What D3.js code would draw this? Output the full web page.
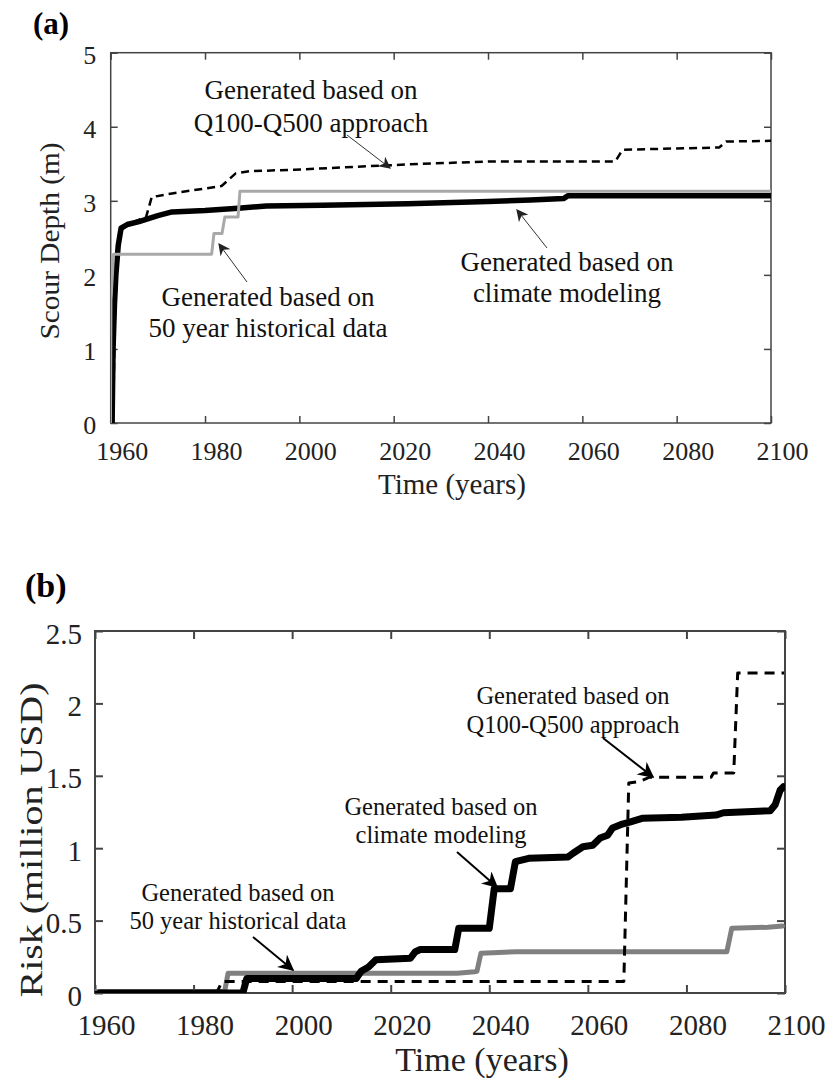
<!DOCTYPE html>
<html><head><meta charset="utf-8">
<script src="https://cdn.jsdelivr.net/npm/d3@7"></script>
<style>
html,body{margin:0;padding:0;background:#fff;}
</style></head>
<body>
<script>
// ---------- DATA ----------
const xTicks = [1960,1980,2000,2020,2040,2060,2080,2100];
const yTicksA = [0,1,2,3,4,5];
const yTicksB = [0,0.5,1,1.5,2,2.5];

// Panel (a): scour depth (m)
const climateYearsA = [1960.3,1960.5,1960.8,1961.1,1961.6,1962.2,1963.5,1966,1970,1973,1980,1987,1993,2005,2023,2040,2049,2056,2057,2100];
const climateDepthA = [0,1.0,1.6,2.0,2.4,2.63,2.68,2.72,2.8,2.85,2.87,2.9,2.93,2.94,2.96,2.99,3.01,3.03,3.07,3.07];
const histYearsA = [1959.95,1960.05,1960.6,1981.4,1981.9,1983.6,1984.2,1987.0,1987.4,2100];
const histDepthA = [0,1.66,2.28,2.28,2.56,2.56,2.78,2.78,3.13,3.13];
const qYearsA = [1960.5,1960.9,1961.4,1962,1965,1967.5,1968.7,1973,1983.5,1986.5,1989.5,1999,2012,2026,2040,2067,2068.5,2089,2090.5,2100];
const qDepthA = [0,1.5,2.2,2.6,2.72,2.78,3.05,3.1,3.2,3.37,3.4,3.42,3.46,3.5,3.53,3.53,3.69,3.72,3.8,3.81];

// Panel (b): risk (million USD)
const climateYearsB = [1961,1990,1990.8,2013,2014,2015.5,2017,2024,2025,2026,2033,2033.8,2040,2041,2044.3,2045.3,2048,2056,2057,2059,2061,2062.5,2064,2065,2067,2068.5,2071,2079,2086,2087.5,2097,2098,2099,2099.7];
const climateRiskB = [0,0,0.10,0.10,0.15,0.18,0.23,0.24,0.285,0.30,0.30,0.447,0.447,0.72,0.72,0.907,0.93,0.94,0.965,1.01,1.02,1.07,1.09,1.14,1.167,1.18,1.206,1.213,1.229,1.245,1.259,1.30,1.40,1.425];
const histYearsB = [1960,1986.3,1987,2033.5,2037,2037.5,2038.3,2045.5,2088.2,2089.2,2096.5,2099.5];
const histRiskB = [0.01,0.01,0.136,0.136,0.147,0.15,0.274,0.285,0.285,0.447,0.454,0.463];
const qYearsB = [1960,1984.8,1985.8,2067.3,2068.3,2070.5,2072.5,2085,2085.5,2089.6,2090.4,2099.8];
const qRiskB = [0.005,0.01,0.08,0.08,1.45,1.46,1.49,1.49,1.52,1.52,2.21,2.21];

// ---------- FONT PICK ----------
const ctx = document.createElement("canvas").getContext("2d");
function w(font, s){ ctx.font = font; return ctx.measureText(s).width; }
const probe = "Generated based on Qq1960";
const candidates = ["Liberation Serif","Tinos","Times New Roman","Nimbus Roman","FreeSerif","DejaVu Serif"];
let FONT = "serif";
for (const f of candidates){
  const a = w(`100px "${f}", monospace`, probe), b = w("100px monospace", probe);
  if (Math.abs(a-b) > 1){ FONT = f; break; }
}
const measured = w(`100px "${FONT}", serif`, "Generated based on");
const F = Math.min(1, 788.6 / measured);
const fs = v => (v*F).toFixed(2);

// ---------- DRAWING ----------
const svg = d3.select("body").append("svg").attr("width",832).attr("height",1078)
  .style("font-family", `"${FONT}", serif`);
const defs = svg.append("defs");
function marker(id, size, color){
  defs.append("marker").attr("id",id).attr("viewBox","0 0 10 10").attr("refX",9).attr("refY",5)
    .attr("markerWidth",size).attr("markerHeight",size).attr("markerUnits","userSpaceOnUse").attr("orient","auto")
    .append("path").attr("d","M0,0 L10,5 L0,10 L3,5 Z").attr("fill",color);
}
marker("arrA",12,"#222");
marker("arrB",16,"#000");

function panel(cfg){
  const g = svg.append("g");
  const x = d3.scaleLinear([1960,2100],[cfg.left,cfg.right]);
  const y = d3.scaleLinear(cfg.yDomain,[cfg.bottom,cfg.top]);
  const clipId = "clip"+cfg.id;
  defs.append("clipPath").attr("id",clipId).append("rect")
    .attr("x",cfg.left).attr("y",cfg.top).attr("width",cfg.right-cfg.left).attr("height",cfg.bottom-cfg.top);

  const tk = cfg.tick;
  const styleAxis = sel => { sel.select(".domain").remove(); sel.selectAll("line").attr("stroke","#444").attr("stroke-width",cfg.frameW); };
  g.append("g").attr("transform",`translate(0,${cfg.bottom})`)
    .call(d3.axisBottom(x).tickValues(xTicks).tickSize(-tk).tickFormat(d3.format("d")))
    .call(styleAxis)
    .call(s=>s.selectAll("text").attr("y",cfg.xLabelY).attr("dy",0).attr("dx",cfg.labelDx)
      .attr("font-size",fs(cfg.tickFont)).attr("fill","#222"));
  g.append("g").attr("transform",`translate(0,${cfg.top})`)
    .call(d3.axisTop(x).tickValues(xTicks).tickSize(-tk).tickFormat(""))
    .call(styleAxis);
  g.append("g").attr("transform",`translate(${cfg.left},0)`)
    .call(d3.axisLeft(y).tickValues(cfg.yTicks).tickSize(-tk).tickPadding(cfg.yPad).tickFormat(d=>String(d)))
    .call(styleAxis)
    .call(s=>s.selectAll("text").attr("dy","0.42em").attr("font-size",fs(cfg.tickFont)).attr("fill","#222"));
  g.append("g").attr("transform",`translate(${cfg.right},0)`)
    .call(d3.axisRight(y).tickValues(cfg.yTicks).tickSize(-tk).tickFormat(""))
    .call(styleAxis);
  svg.selectAll("g").attr("font-family",null);
  g.append("rect").attr("x",cfg.left).attr("y",cfg.top).attr("width",cfg.right-cfg.left).attr("height",cfg.bottom-cfg.top)
    .attr("fill","none").attr("stroke","#444").attr("stroke-width",cfg.frameW);

  const line = d3.line().x(d=>x(d[0])).y(d=>y(d[1]));
  const lg = g.append("g").attr("clip-path",`url(#${clipId})`);
  cfg.series.forEach(s=>{
    lg.append("path").datum(d3.zip(s.x,s.y)).attr("d",line).attr("fill","none")
      .attr("stroke",s.color).attr("stroke-width",s.w).attr("stroke-dasharray",s.dash||null)
      .attr("stroke-linejoin","round").attr("stroke-linecap",s.dash?"butt":"round");
  });

  g.append("text").attr("x",cfg.panelX).attr("y",cfg.panelY).attr("font-size",fs(cfg.panelFont))
    .attr("font-weight","bold").attr("fill","#000").text(cfg.panelLabel);
  g.append("text").attr("x",cfg.xTitleX).attr("y",cfg.xTitleY).attr("text-anchor","middle")
    .attr("font-size",fs(cfg.xTitleFont)).attr("fill","#222").text("Time (years)");
  g.append("text").attr("transform",`translate(${cfg.yTitleX},${cfg.yTitleY}) rotate(-90)`)
    .attr("text-anchor","middle").attr("font-size",fs(cfg.yTitleFont)).attr("fill","#222")
    .attr("textLength",cfg.yTitleLen).attr("lengthAdjust","spacingAndGlyphs").text(cfg.yTitle);

  cfg.notes.forEach(n=>{
    const t = g.append("text").attr("text-anchor","middle").attr("font-size",fs(cfg.noteFont)).attr("fill","#111");
    n.lines.forEach((l,i)=>t.append("tspan").attr("x",n.cx).attr("y",n.y[i]).text(l));
    g.append("line").attr("x1",n.a[0]).attr("y1",n.a[1]).attr("x2",n.a[2]).attr("y2",n.a[3])
      .attr("stroke",cfg.arrowColor).attr("stroke-width",cfg.arrowW).attr("marker-end",`url(#${cfg.marker})`);
  });
}

panel({
  id:"A", left:110.7, right:771, top:52.7, bottom:423, yDomain:[0,5], yTicks:yTicksA,
  tick:7, frameW:1.5, tickFont:26, xLabelY:37, labelDx:11, yPad:14.5,
  panelLabel:"(a)", panelX:33, panelY:34, panelFont:31,
  xTitleX:452, xTitleY:494, xTitleFont:29,
  yTitle:"Scour Depth (m)", yTitleX:59, yTitleY:241, yTitleFont:27, yTitleLen:197,
  noteFont:27, arrowColor:"#333", arrowW:1, marker:"arrA",
  series:[
    {x:climateYearsA, y:climateDepthA, color:"#000", w:5.5},
    {x:qYearsA, y:qDepthA, color:"#000", w:2.5, dash:"8,5"},
    {x:histYearsA, y:histDepthA, color:"#a9a9a9", w:3}
  ],
  notes:[
    {lines:["Generated based on","Q100-Q500 approach"], cx:311, y:[99,132], a:[347,135,390,168]},
    {lines:["Generated based on","50 year historical data"], cx:268, y:[306,337], a:[247,282,219,244]},
    {lines:["Generated based on","climate modeling"], cx:567, y:[271,302], a:[547,248,517,210]}
  ]
});

panel({
  id:"B", left:95, right:785, top:631, bottom:993, yDomain:[0,2.5], yTicks:yTicksB,
  tick:8, frameW:2, tickFont:29, xLabelY:42, labelDx:11, yPad:13,
  panelLabel:"(b)", panelX:25, panelY:597, panelFont:34,
  xTitleX:482, xTitleY:1071, xTitleFont:34,
  yTitle:"Risk (million USD)", yTitleX:42, yTitleY:840, yTitleFont:31, yTitleLen:315,
  noteFont:24.5, arrowColor:"#000", arrowW:2, marker:"arrB",
  series:[
    {x:histYearsB, y:histRiskB, color:"#808080", w:5},
    {x:qYearsB, y:qRiskB, color:"#000", w:3, dash:"10,7"},
    {x:climateYearsB, y:climateRiskB, color:"#000", w:7}
  ],
  notes:[
    {lines:["Generated based on","Q100-Q500 approach"], cx:573, y:[704,733], a:[603,738,653,777]},
    {lines:["Generated based on","climate modeling"], cx:441, y:[815,843], a:[457,852,497,887]},
    {lines:["Generated based on","50 year historical data"], cx:238, y:[901,929], a:[253,937,293,970]}
  ]
});
</script>
</body></html>
